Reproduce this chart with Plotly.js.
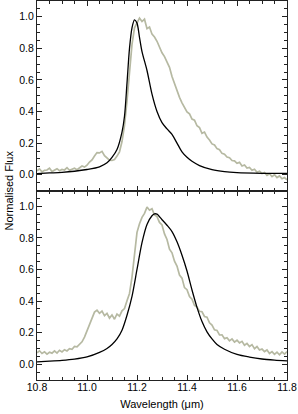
<!DOCTYPE html>
<html>
<head>
<meta charset="utf-8">
<script src="https://cdn.plot.ly/plotly-3.0.1.min.js"></script>
<style>html,body{margin:0;padding:0;background:#fff;}#chart{width:298px;height:414px;}</style>
</head>
<body>
<div id="chart"></div>
<script>
// Observed spectra sampled every 0.01 micron from 10.80 to 11.80
var obsStart = 10.80, obsStep = 0.01;
var obsTop = [0.024,0.036,0.018,0.028,0.030,0.042,0.020,0.027,0.038,0.025,
  0.033,0.030,0.045,0.028,0.035,0.041,0.032,0.044,0.055,0.048,
  0.060,0.080,0.094,0.118,0.140,0.138,0.148,0.120,0.104,0.092,
  0.090,0.096,0.118,0.145,0.210,0.312,0.468,0.665,0.825,0.930,
  0.962,0.992,0.970,0.985,0.925,0.935,0.890,0.872,0.845,0.805,
  0.772,0.748,0.712,0.680,0.622,0.580,0.525,0.490,0.455,0.428,
  0.398,0.385,0.352,0.345,0.310,0.298,0.262,0.270,0.238,0.220,
  0.195,0.188,0.165,0.158,0.135,0.130,0.112,0.108,0.090,0.088,
  0.072,0.078,0.055,0.062,0.042,0.046,0.028,0.035,0.016,0.022,
  0.008,0.014,-0.004,0.006,-0.012,0.000,-0.018,-0.008,-0.026,-0.018,
  -0.032];
var obsBottom = [0.072,0.085,0.068,0.078,0.064,0.076,0.070,0.084,0.070,0.088,
  0.078,0.092,0.084,0.098,0.095,0.112,0.110,0.128,0.142,0.172,
  0.210,0.255,0.292,0.330,0.342,0.322,0.336,0.308,0.322,0.292,
  0.312,0.285,0.318,0.305,0.338,0.352,0.402,0.448,0.552,0.698,
  0.835,0.890,0.930,0.955,0.995,0.975,0.985,0.945,0.935,0.898,
  0.882,0.825,0.790,0.728,0.705,0.652,0.622,0.565,0.545,0.485,
  0.472,0.428,0.412,0.372,0.362,0.335,0.332,0.302,0.298,0.262,
  0.248,0.218,0.214,0.185,0.186,0.162,0.168,0.148,0.160,0.140,
  0.152,0.135,0.145,0.120,0.132,0.112,0.124,0.098,0.112,0.090,
  0.096,0.080,0.090,0.068,0.080,0.062,0.076,0.060,0.078,0.064,
  0.080];

// Model profiles
var modelTopX = [10.80,10.85,10.90,10.95,11.00,11.05,11.08,11.10,11.12,11.14,11.15,11.16,11.17,11.18,11.19,11.20,11.21,11.22,11.24,11.26,11.28,11.30,11.32,11.34,11.36,11.38,11.40,11.42,11.45,11.50,11.55,11.60,11.70,11.80];
var modelTopY = [0.007,0.011,0.015,0.022,0.033,0.050,0.075,0.110,0.160,0.270,0.370,0.580,0.800,0.930,0.980,0.960,0.870,0.780,0.660,0.510,0.400,0.330,0.290,0.255,0.200,0.145,0.110,0.085,0.058,0.032,0.019,0.013,0.009,0.008];
var modelBottomX = [10.80,10.85,10.90,10.95,11.00,11.05,11.08,11.10,11.12,11.14,11.16,11.18,11.20,11.22,11.24,11.26,11.27,11.28,11.30,11.32,11.34,11.36,11.38,11.40,11.42,11.44,11.46,11.48,11.50,11.52,11.55,11.60,11.65,11.70,11.75,11.80];
var modelBottomY = [0.015,0.019,0.024,0.032,0.046,0.075,0.100,0.125,0.160,0.215,0.310,0.430,0.600,0.770,0.885,0.940,0.952,0.950,0.915,0.880,0.840,0.775,0.690,0.590,0.470,0.360,0.270,0.205,0.160,0.125,0.095,0.062,0.045,0.033,0.026,0.021];

var xTickVals = [10.8,11.0,11.2,11.4,11.6,11.8];
var xTickText = ['10.8','11.0','11.2','11.4','11.6','11.8'];
var yTickVals = [0.0,0.2,0.4,0.6,0.8,1.0];
var yTickText = ['0.0','0.2','0.4','0.6','0.8','1.0'];

var obsX = obsTop.map(function(_, i){ return +(obsStart + i*obsStep).toFixed(2); });

var grey = '#b6b9a2';
var traces = [
  {x: obsX, y: obsTop, xaxis:'x2', yaxis:'y2', mode:'lines', line:{color:grey, width:1.7}, hoverinfo:'skip'},
  {x: modelTopX, y: modelTopY, xaxis:'x2', yaxis:'y2', mode:'lines', line:{color:'#000', width:1.3, shape:'spline', smoothing:0.8}, hoverinfo:'skip'},
  {x: obsX, y: obsBottom, xaxis:'x', yaxis:'y', mode:'lines', line:{color:grey, width:1.7}, hoverinfo:'skip'},
  {x: modelBottomX, y: modelBottomY, xaxis:'x', yaxis:'y', mode:'lines', line:{color:'#000', width:1.3, shape:'spline', smoothing:0.8}, hoverinfo:'skip'}
];

var fam = 'Liberation Sans, Arial, sans-serif';
var font = {family:fam, size:10.5, color:'#000'};
function xAx(extra){
  var a = {range:[10.8,11.8], showgrid:false, zeroline:false, showline:true, linecolor:'#222', linewidth:1,
    mirror:'ticks', ticks:'inside', ticklen:5, tickwidth:1, tickcolor:'#222',
    tickvals:xTickVals, ticktext:xTickText, tickfont:font,
    minor:{dtick:0.05, tick0:10.8, ticks:'inside', ticklen:3, tickwidth:1, tickcolor:'#222', showgrid:false}};
  for (var k in extra) a[k] = extra[k];
  return a;
}
function yAx(extra){
  var a = {range:[-0.1,1.1], showgrid:false, zeroline:false, showline:true, linecolor:'#222', linewidth:1,
    mirror:'ticks', ticks:'inside', ticklen:5, tickwidth:1, tickcolor:'#222',
    tickvals:yTickVals, ticktext:yTickText, tickfont:font,
    minor:{dtick:0.05, tick0:0, ticks:'inside', ticklen:3, tickwidth:1, tickcolor:'#222', showgrid:false}};
  for (var k in extra) a[k] = extra[k];
  return a;
}

var layout = {
  width:298, height:414,
  margin:{l:37, r:11, t:1, b:34},
  paper_bgcolor:'#fff', plot_bgcolor:'#fff',
  showlegend:false,
  xaxis: xAx({anchor:'y', domain:[0,1], ticklabelstandoff:-3, title:{text:'Wavelength (μm)', font:{family:fam, size:11, color:'#000'}, standoff:8}}),
  xaxis2: xAx({anchor:'y2', domain:[0,1], matches:'x', showticklabels:false}),
  yaxis: yAx({anchor:'x', domain:[0,0.5]}),
  yaxis2: yAx({anchor:'x2', domain:[0.5,1]}),
  annotations:[{text:'Normalised Flux', xref:'paper', yref:'paper', x:-0.116, y:0.5, xanchor:'center', yanchor:'middle',
    textangle:-90, showarrow:false, font:{family:fam, size:11, color:'#000'}}]
};

Plotly.newPlot('chart', traces, layout, {staticPlot:true, displayModeBar:false});
</script>
</body>
</html>
